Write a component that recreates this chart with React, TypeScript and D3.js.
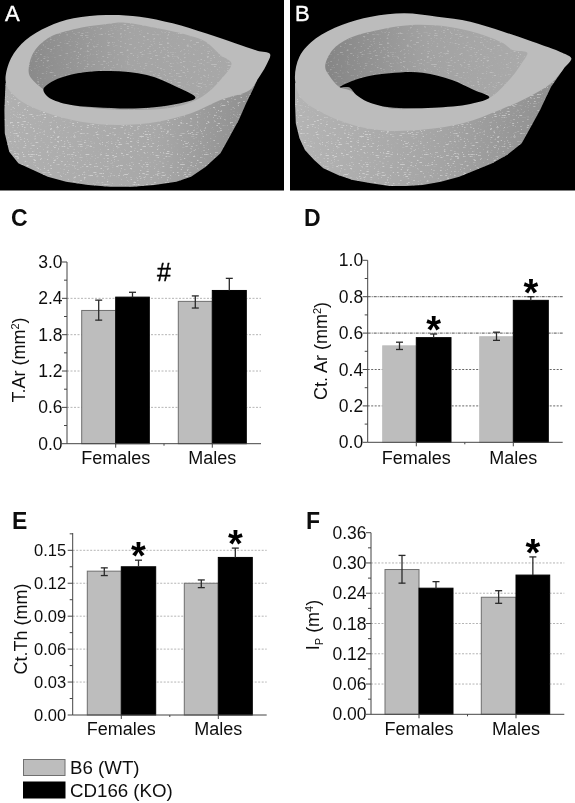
import React from "react";
import * as d3 from "d3";

// ---------- data ----------
const groups = ["Females", "Males"];
const seriesNames = ["B6 (WT)", "CD166 (KO)"];

const tarValues = [2.2, 2.42, 2.35, 2.53];
const tarLow = [2.04, 2.42, 2.24, 2.53];
const tarHigh = [2.37, 2.5, 2.44, 2.73];
const tarTicks = ["0.0", "0.6", "1.2", "1.8", "2.4", "3.0"];

const ctArValues = [0.53, 0.575, 0.58, 0.78];
const ctArLow = [0.51, 0.575, 0.56, 0.78];
const ctArHigh = [0.55, 0.595, 0.605, 0.8];
const ctArTicks = ["0.0", "0.2", "0.4", "0.6", "0.8", "1.0"];

const ctThValues = [0.131, 0.135, 0.12, 0.1435];
const ctThLow = [0.127, 0.135, 0.116, 0.1435];
const ctThHigh = [0.134, 0.141, 0.123, 0.152];
const ctThTicks = ["0.00", "0.03", "0.06", "0.09", "0.12", "0.15"];

const ipValues = [0.287, 0.25, 0.232, 0.276];
const ipLow = [0.26, 0.25, 0.22, 0.276];
const ipHigh = [0.315, 0.263, 0.245, 0.312];
const ipTicks = ["0.00", "0.06", "0.12", "0.18", "0.24", "0.30", "0.36"];

// micro-CT outlines
type P = [number, number];
const ringATop: P[] = [[15,240],[30,175],[70,120],[130,80],[200,55],[290,45],[380,50],[470,70],[560,100],[640,130],[700,152],[735,162],[725,195],[700,240],[680,270],[600,300],[520,340],[430,365],[320,375],[220,365],[130,340],[60,305],[25,270]];
const ringAOpening: P[] = [[78,215],[90,160],[130,115],[200,88],[290,72],[340,68],[430,85],[510,105],[560,125],[600,165],[630,190],[600,240],[550,290],[480,320],[380,330],[260,325],[180,310],[120,270],[85,235]];
const ringAHole: P[] = [[118,268],[150,240],[220,218],[300,213],[400,225],[480,260],[532,293],[480,312],[380,325],[260,322],[180,312],[130,290]];
const ringAWall: P[] = [[15,250],[12,330],[13,400],[25,455],[50,490],[90,510],[130,530],[180,545],[240,555],[300,560],[360,560],[420,555],[480,545],[520,530],[560,500],[600,460],[625,410],[650,360],[670,310],[690,265],[700,240],[400,200],[100,200]];
const ringBTop: P[] = [[803,240],[815,170],[860,115],[930,75],[1010,50],[1100,40],[1190,50],[1280,65],[1370,95],[1450,125],[1530,158],[1555,175],[1535,205],[1500,250],[1440,290],[1360,330],[1260,370],[1160,388],[1050,392],[960,375],[880,340],[820,295]];
const ringBOpening: P[] = [[885,200],[905,150],[950,115],[1030,90],[1120,75],[1220,80],[1300,100],[1370,130],[1395,150],[1435,158],[1420,190],[1390,235],[1330,295],[1250,315],[1150,325],[1060,325],[1000,300],[950,270],[925,262],[895,225]];
const ringBHole: P[] = [[925,262],[980,235],[1060,220],[1150,218],[1230,240],[1290,270],[1332,292],[1280,312],[1180,323],[1060,322],[1000,305],[970,285],[950,262]];
const ringBWall: P[] = [[803,250],[803,310],[805,370],[815,415],[830,450],[855,480],[880,505],[920,525],[960,540],[1010,550],[1060,558],[1105,558],[1150,555],[1200,545],[1250,530],[1295,510],[1340,490],[1380,465],[1420,430],[1445,380],[1470,330],[1485,295],[1500,260],[1535,205],[1200,200],[900,200]];

// ---------- styling ----------
const FONT = "'Liberation Sans', Arial, sans-serif";
const GRAY = "#bdbdbd";
const BLACK = "#050505";

const px = d3.scaleLinear().domain([0, 1565]).range([0, 575]);
const py = d3.scaleLinear().domain([0, 600]).range([0, 200]);
const smooth = d3.line<P>().x(d => px(d[0])).y(d => py(d[1])).curve(d3.curveCatmullRomClosed.alpha(0.5));
const straight = d3.line<P>().x(d => px(d[0])).y(d => py(d[1])).curve(d3.curveLinearClosed);

function Ring({ top, opening, hole, wall, id }: { top: P[]; opening: P[]; hole: P[]; wall: P[]; id: string }) {
  return (
    <g>
      <clipPath id={`wall-${id}`}><path d={straight(wall)!} /></clipPath>
      <clipPath id={`open-${id}`}><path d={smooth(opening)!} /></clipPath>
      <path d={straight(wall)!} fill={`url(#wallGrad-${id})`} />
      <g clipPath={`url(#wall-${id})`}><rect x={0} y={0} width={575} height={195} fill="url(#speck)" /></g>
      <path d={smooth(top)!} fill="#bcbcbc" />
      <path d={smooth(opening)!} fill={`url(#openGrad-${id})`} />
      <g clipPath={`url(#open-${id})`}><rect x={0} y={0} width={575} height={195} fill="url(#speck)" opacity={0.6} /></g>
      <path d={smooth(hole)!} fill="#000" />
    </g>
  );
}

type PanelProps = {
  letter: string; letterX: number; letterY: number;
  axisX: number; axisEnd: number; y0: number; yMaxPx: number; yMax: number; axisTop?: number;
  tickLabels: string[]; barEdges: number[];
  values: number[]; low: number[]; high: number[];
  title: React.ReactNode; titleX: number; titleY: number;
  gridColor?: string; darkGrid?: string[]; grayStroke?: string; labelY: number;
  stars?: { i: number; dy: number }[]; labelGap?: number; tickSize?: number;
};

function Panel(p: PanelProps) {
  const y = d3.scaleLinear().domain([0, p.yMax]).range([p.y0, p.yMaxPx]);
  const ticks = p.tickLabels.map(t => +t);
  const step = ticks[1] - ticks[0];
  const axisTopPx = p.axisTop ?? p.yMaxPx;
  const topVal = y.invert(axisTopPx);
  const minors = d3.range(0, Math.floor(topVal / (step / 2) + 1e-6) + 1).map(i => (i * step) / 2);
  const bars = p.values.map((v, i) => ({ v, i, x0: p.barEdges[[0, 1, 3, 4][i]], x1: p.barEdges[[1, 2, 4, 5][i]] }));
  const groupC = [p.barEdges[1], p.barEdges[4]];
  const gridTicks = p.tickLabels.filter(t => +t > 0 && y(+t) > axisTopPx + 1);
  return (
    <g fontFamily={FONT} fill="#111">
      <text x={p.letterX} y={p.letterY} fontSize={23} fontWeight="bold" fill="#111">{p.letter}</text>
      {gridTicks.map(t => (
        <line key={t} x1={p.axisX} x2={p.axisEnd} y1={y(+t)} y2={y(+t)}
          stroke={p.darkGrid?.includes(t) ? "#555" : p.gridColor ?? "#b5b5b5"}
          strokeWidth={1} strokeDasharray={p.darkGrid?.includes(t) ? "3 1 1 1" : "2 1.5"} />
      ))}
      {bars.map(b => (
        <rect key={b.i} x={b.x0} width={b.x1 - b.x0} y={y(b.v)} height={p.y0 - y(b.v)}
          fill={b.i % 2 === 0 ? GRAY : BLACK}
          stroke={b.i % 2 === 0 ? p.grayStroke ?? "#6f6f6f" : BLACK} strokeWidth={1} />
      ))}
      {bars.map(b => {
        const c = (b.x0 + b.x1) / 2;
        return (
          <g key={b.i} stroke="#2a2a2a" strokeWidth={1.3}>
            <line x1={c} x2={c} y1={y(p.high[b.i])} y2={y(p.low[b.i])} />
            <line x1={c - 3.5} x2={c + 3.5} y1={y(p.high[b.i])} y2={y(p.high[b.i])} />
            {b.i % 2 === 0 && <line x1={c - 3.5} x2={c + 3.5} y1={y(p.low[b.i])} y2={y(p.low[b.i])} />}
          </g>
        );
      })}
      <line x1={p.axisX} x2={p.axisX} y1={axisTopPx} y2={p.y0} stroke="#444" strokeWidth={1} />
      <line x1={p.axisX} x2={p.axisEnd} y1={p.y0} y2={p.y0} stroke="#444" strokeWidth={1} />
      {minors.map((m, i) => (
        <line key={i} x1={p.axisX - (i % 2 === 0 ? 5 : 3)} x2={p.axisX} y1={y(m)} y2={y(m)} stroke="#444" strokeWidth={1} />
      ))}
      {[groupC[0], (groupC[0] + groupC[1]) / 2, groupC[1]].map((c, i) => (
        <line key={i} x1={c} x2={c} y1={p.y0} y2={p.y0 + (i === 1 ? 2 : 4)} stroke="#444" strokeWidth={1} />
      ))}
      {p.tickLabels.map(t => (
        <text key={t} x={p.axisX - (p.labelGap ?? 4.5)} y={y(+t) + 6} textAnchor="end" fontSize={p.tickSize ?? 17.5}>{t}</text>
      ))}
      {groups.map((g, i) => (
        <text key={g} x={groupC[i]} y={p.labelY} textAnchor="middle" fontSize={18}>{g}</text>
      ))}
      <text transform={`translate(${p.titleX},${p.titleY}) rotate(-90)`} textAnchor="middle" fontSize={18}>{p.title}</text>
      {p.stars?.map(s => {
        const b = bars[s.i];
        return (
          <text key={s.i} x={(b.x0 + b.x1) / 2} y={y(p.high[s.i]) - s.dy} textAnchor="middle"
            fontSize={38} fontWeight="bold" fill="#000">*</text>
        );
      })}
    </g>
  );
}

export default function App() {
  return (
    <svg width={575} height={803} viewBox="0 0 575 803"
      style={{ position: "absolute", left: 0, top: 0, background: "#fff" }}>
      <defs>
        <filter id="speckF" x="0" y="0" width="100%" height="100%">
          <feTurbulence type="fractalNoise" baseFrequency="0.3 0.9" numOctaves={2} seed={4} />
          <feColorMatrix type="matrix" values="0 0 0 0 1  0 0 0 0 1  0 0 0 0 1  3 -6 0 0 0.7" />
        </filter>
        <pattern id="speck" width={220} height={200} patternUnits="userSpaceOnUse">
          <rect width={220} height={200} filter="url(#speckF)" opacity={0.4} />
        </pattern>
        <linearGradient id="wallGrad-a" x1="0" x2="1" y1="0" y2="0">
          <stop offset="0" stopColor="#b0b0b0" /><stop offset="0.6" stopColor="#a8a8a8" /><stop offset="1" stopColor="#8e8e8e" />
        </linearGradient>
        <linearGradient id="wallGrad-b" x1="0" x2="1" y1="0" y2="0">
          <stop offset="0" stopColor="#b4b4b4" /><stop offset="0.55" stopColor="#a4a4a4" /><stop offset="1" stopColor="#8e8e8e" />
        </linearGradient>
        <linearGradient id="openGrad-a" x1="0" x2="1" y1="0" y2="0">
          <stop offset="0" stopColor="#8a8a8a" /><stop offset="0.5" stopColor="#a4a4a4" /><stop offset="1" stopColor="#a8a8a8" />
        </linearGradient>
        <linearGradient id="openGrad-b" x1="0" x2="1" y1="0" y2="0">
          <stop offset="0" stopColor="#858585" /><stop offset="0.5" stopColor="#a2a2a2" /><stop offset="1" stopColor="#aaaaaa" />
        </linearGradient>
        <filter id="soft" x="0" y="0" width="100%" height="100%"><feGaussianBlur stdDeviation="0.35" /></filter>
      </defs>

      <g filter="url(#soft)">
        <rect x={0} y={0} width={284} height={190.5} fill="#000" />
        <rect x={290} y={0} width={285} height={190.5} fill="#000" />
        <Ring id="a" top={ringATop} opening={ringAOpening} hole={ringAHole} wall={ringAWall} />
        <Ring id="b" top={ringBTop} opening={ringBOpening} hole={ringBHole} wall={ringBWall} />
        <text x={5} y={21} fontFamily={FONT} fontSize={22} fill="#fff" stroke="#fff" strokeWidth={0.4}>A</text>
        <text x={295} y={21} fontFamily={FONT} fontSize={22} fill="#fff" stroke="#fff" strokeWidth={0.4}>B</text>

        <Panel letter="C" letterX={11} letterY={226} axisX={67} axisEnd={261} y0={443.7} yMaxPx={262} yMax={3}
          tickLabels={tarTicks} barEdges={[81.7, 115.7, 149.3, 178.3, 212.3, 246.3]}
          values={tarValues} low={tarLow} high={tarHigh} labelY={464}
          title={<>T.Ar (mm<tspan dy={-6} fontSize={11}>2</tspan><tspan dy={6}>)</tspan></>} titleX={25} titleY={360} />
        <text x={164} y={281} textAnchor="middle" fontFamily={FONT} fontSize={25} fill="#000" stroke="#000" strokeWidth={0.4}>#</text>

        <Panel letter="D" letterX={304} letterY={226} axisX={367.7} axisEnd={562.7} y0={442.3} yMaxPx={260.3} yMax={1}
          tickLabels={ctArTicks} barEdges={[382.7, 416.3, 451, 479.7, 513.3, 548.3]}
          values={ctArValues} low={ctArLow} high={ctArHigh} labelY={464} grayStroke={GRAY}
          gridColor="#666" darkGrid={["0.6", "0.8"]} stars={[{ i: 1, dy: -9 }, { i: 3, dy: -9 }]}
          title={<>Ct. Ar (mm<tspan dy={-6} fontSize={11}>2</tspan><tspan dy={6}>)</tspan></>} titleX={326.5} titleY={351} />

        <Panel letter="E" letterX={12} letterY={529} axisX={72.7} axisEnd={266.7} y0={715} yMaxPx={550.3} yMax={0.15} axisTop={533}
          tickLabels={ctThTicks} barEdges={[87.3, 121.3, 155.7, 184.3, 218.3, 252.3]}
          values={ctThValues} low={ctThLow} high={ctThHigh} labelY={735} labelGap={6.5} tickSize={16.5}
          stars={[{ i: 1, dy: -9 }, { i: 3, dy: -9 }]}
          title="Ct.Th (mm)" titleX={26.5} titleY={629} />

        <Panel letter="F" letterX={306} letterY={529} axisX={371} axisEnd={564.3} y0={714.3} yMaxPx={532.7} yMax={0.36}
          tickLabels={ipTicks} barEdges={[385, 419, 453, 481.3, 516, 549.7]}
          values={ipValues} low={ipLow} high={ipHigh} labelY={735}
          stars={[{ i: 3, dy: -9 }]}
          title={<>I<tspan dy={4} fontSize={11}>P</tspan><tspan dy={-4}> (m</tspan><tspan dy={-6} fontSize={11}>4</tspan><tspan dy={6}>)</tspan></>} titleX={319} titleY={625} />

        <g fontFamily={FONT} fontSize={18.7} fill="#111">
          <rect x={23.5} y={759.5} width={41.5} height={16} fill={GRAY} stroke="#6f6f6f" />
          <rect x={23.5} y={782} width={41.5} height={16} fill={BLACK} stroke={BLACK} />
          <text x={70} y={774}>{seriesNames[0]}</text>
          <text x={70} y={797}>{seriesNames[1]}</text>
        </g>
      </g>
    </svg>
  );
}
